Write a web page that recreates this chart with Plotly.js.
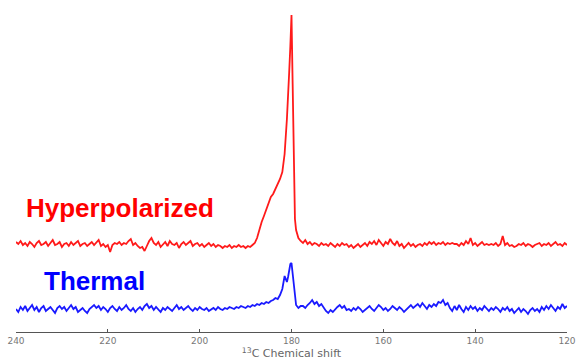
<!DOCTYPE html>
<html>
<head>
<meta charset="utf-8">
<script src="https://cdn.plot.ly/plotly-3.0.1.min.js"></script>
<style>html,body{margin:0;padding:0;background:#fff;}#chart{width:579px;height:363px;}</style>
</head>
<body>
<div id="chart"></div>
<script>
// Chemical shift axis (ppm)
const ppm = [
  240,239.5,239,238.5,238,237.5,237,236.5,236,235.5,
  235,234.5,234,233.5,233,232.5,232,231.5,231,230.5,
  230,229.5,229,228.5,228,227.5,227,226.5,226,225.5,
  225,224.5,224,223.5,223,222.5,222,221.5,221,220.5,
  220,219.5,219,218.5,218,217.5,217,216.5,216,215.5,
  215,214.5,214,213.5,213,212.5,212,211.5,211,210.5,
  210,209.5,209,208.5,208,207.5,207,206.5,206,205.5,
  205,204.5,204,203.5,203,202.5,202,201.5,201,200.5,
  200,199.5,199,198.5,198,197.5,197,196.5,196,195.5,
  195,194.5,194,193.5,193,192.5,192,191.5,191,190.5,
  190,189.5,189,188.5,188,
  187.5,187,186.5,186,185.5,185,184.5,184,183.5,183,182.5,182,181.5,181,
  180.75,180.5,180.25,180,179.75,179.5,179.25,179,
  178.5,178,
  177.5,177,176.5,176,175.5,175,174.5,174,173.5,173,
  172.5,172,171.5,171,170.5,170,169.5,169,168.5,168,
  167.5,167,166.5,166,165.5,165,164.5,164,163.5,163,
  162.5,162,161.5,161,160.5,160,159.5,159,158.5,158,
  157.5,157,156.5,156,155.5,155,154.5,154,153.5,153,
  152.5,152,151.5,151,150.5,150,149.5,149,148.5,148,
  147.5,147,146.5,146,145.5,145,144.5,144,143.5,143,
  142.5,142,141.5,141,140.5,140,139.5,139,138.5,138,
  137.5,137,136.5,136,135.5,135,134.5,134,133.5,133,
  132.5,132,131.5,131,130.5,130,129.5,129,128.5,128,
  127.5,127,126.5,126,125.5,125,124.5,124,123.5,123,
  122.5,122,121.5,121,120.5,120
];

// Hyperpolarized spectrum intensity (arbitrary units)
const hyperpolarized = [
  2,0,3,-1,1,-2,2,0,-3,1,
  3,-1,0,2,-2,1,4,-1,0,2,
  -3,0,1,-2,2,-1,1,3,-2,0,
  1,-2,0,2,-1,1,4,-2,0,-3,
  -1,-8,-1,1,0,2,-1,1,0,3,
  5,-1,1,-2,-4,-3,-7,-2,3,6,
  1,-1,2,-3,0,2,-2,3,0,-1,
  1,-4,0,2,-1,1,3,-2,0,1,
  -2,0,-3,-1,1,-2,0,-3,-1,-2,
  -4,-2,-3,-1,-4,-2,-3,-1,-3,-2,
  -4,-2,-3,-1,1,
  6,15,22,28,34,40,47,50,55,60,65,72,90,125,
  160,172,198,229,160,60,25,14,
  6,3,
  1,4,0,2,-1,1,0,-2,1,-1,
  0,-2,1,-1,-3,0,-2,1,-1,0,
  -3,-1,-4,-2,0,-3,-1,1,-2,2,
  0,3,-1,4,1,-2,2,0,5,1,
  -1,3,-2,0,-4,-1,1,-2,0,-3,
  -1,0,-2,1,-1,2,0,2,-1,1,
  0,2,-1,1,0,1,0,0,-2,1,
  -1,3,0,6,-1,1,-2,0,2,-1,
  0,-1,0,-1,1,-2,0,8,-1,1,
  -2,-1,-3,-2,0,-1,1,-2,0,-1,
  -3,-1,0,1,-2,0,-1,1,-2,0,
  2,-1,0,-2,1,-1
];

// Thermal spectrum intensity (arbitrary units)
const thermal = [
  0,-3,2,-1,3,-2,1,4,-1,2,
  -3,1,3,-2,0,2,-1,-4,1,3,
  0,2,-2,1,4,0,2,-3,-1,1,
  -2,-4,0,2,4,1,3,-1,2,0,
  -3,1,3,0,-2,2,-1,1,4,0,
  -2,1,-3,0,2,-1,3,5,1,3,
  -1,2,0,-3,1,-1,2,0,-2,1,
  4,0,2,-1,1,3,0,-2,1,-1,
  2,0,-1,1,-2,0,1,-1,2,0,
  -1,1,0,2,1,0,2,1,3,2,
  1,3,2,4,3,
  5,4,6,5,7,6,8,9,11,10,14,20,33,27,
  32,40,45,46,36,24,12,4,
  1,3,
  3,1,4,6,9,5,7,3,5,1,
  -2,-4,-1,-3,0,2,4,1,3,-1,
  0,-2,1,-1,2,0,-3,-1,1,3,
  0,-2,1,4,2,-1,1,-2,0,3,
  1,-1,2,0,-3,-1,2,4,1,3,
  5,2,6,3,0,4,2,5,3,7,
  6,9,4,6,1,-2,3,-1,4,0,
  -3,2,-1,3,0,2,-2,1,-1,3,
  0,-2,1,-1,2,0,-3,1,-1,2,
  -2,0,-4,-1,1,-3,0,-2,-5,-1,
  1,-2,0,-3,2,-1,3,0,4,1,
  -2,2,0,5,1,3
];

const tickValues = [240, 220, 200, 180, 160, 140, 120];
const tickLabels = ["240", "220", "200", "180", "160", "140", "120"];
const seriesNames = ["Hyperpolarized", "Thermal"];

const traces = [
  {x: ppm, y: hyperpolarized, type: 'scatter', mode: 'lines', name: seriesNames[0],
   line: {color: '#ff1a1a', width: 1.8}, yaxis: 'y'},
  {x: ppm, y: thermal, type: 'scatter', mode: 'lines', name: seriesNames[1],
   line: {color: '#1a1aff', width: 1.8}, yaxis: 'y2'}
];

const layout = {
  width: 579, height: 363,
  margin: {l: 16, r: 12, t: 0, b: 31},
  paper_bgcolor: '#ffffff', plot_bgcolor: '#ffffff',
  showlegend: false,
  xaxis: {
    range: [240, 120], showgrid: false, zeroline: false,
    showline: true, linecolor: '#555', linewidth: 1,
    ticks: 'inside', ticklen: 3, tickcolor: '#555',
    tickvals: tickValues, ticktext: tickLabels,
    tickfont: {family: 'DejaVu Sans', size: 9, color: '#777'},
    title: {text: '<sup>13</sup>C Chemical shift', standoff: 3,
            font: {family: 'DejaVu Sans', size: 11, color: '#666'}}
  },
  yaxis: {range: [-88, 244], visible: false, fixedrange: true},
  yaxis2: {range: [-23, 309], visible: false, overlaying: 'y'},
  annotations: [
    {text: '<b>' + seriesNames[0] + '</b>', xref: 'paper', yref: 'paper',
     x: 0.189, y: 0.373, xanchor: 'center', yanchor: 'middle', showarrow: false,
     font: {family: 'Liberation Sans, Arial', size: 26, color: '#ff0000'}},
    {text: '<b>' + seriesNames[1] + '</b>', xref: 'paper', yref: 'paper',
     x: 0.143, y: 0.154, xanchor: 'center', yanchor: 'middle', showarrow: false,
     font: {family: 'Liberation Sans, Arial', size: 26, color: '#0000ff'}}
  ]
};

Plotly.newPlot('chart', traces, layout, {staticPlot: true, displayModeBar: false});
</script>
</body>
</html>
